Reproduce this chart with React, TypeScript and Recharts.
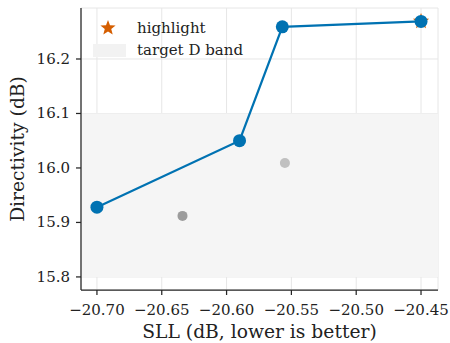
import {
  ComposedChart,
  Line,
  Scatter,
  XAxis,
  YAxis,
  CartesianGrid,
  ReferenceArea,
} from "recharts";

// front (pareto) points: SLL vs directivity
const frontSll = [-20.7, -20.59, -20.557, -20.45];
const frontDir = [15.928, 16.05, 16.259, 16.269];

// dominated points
const otherSll = [-20.634, -20.555];
const otherDir = [15.912, 16.009];
const otherColors = ["#9c9c9c", "#c0c0c0"];

const highlightSll = [-20.45];
const highlightDir = [16.269];

const xTicks = [-20.7, -20.65, -20.6, -20.55, -20.5, -20.45];
const yTicks = [15.8, 15.9, 16.0, 16.1, 16.2];

const bandLow = 15.8;
const bandHigh = 16.1;

const BLUE = "#0072B2";
const ORANGE = "#D55E00";
const FONT = "'DejaVu Serif', serif";
const TICK_FS = 15;
const LABEL_FS = 18.7;

const frontData = frontSll.map((x, i) => ({ x, y: frontDir[i] }));
const otherData = otherSll.map((x, i) => ({ x, y: otherDir[i], fill: otherColors[i] }));
const highlightData = highlightSll.map((x, i) => ({ x, y: highlightDir[i] }));

const starPath = (cx: number, cy: number, ro: number, ri: number) => {
  const pts: string[] = [];
  for (let i = 0; i < 10; i++) {
    const r = i % 2 === 0 ? ro : ri;
    const a = -Math.PI / 2 + (i * Math.PI) / 5;
    pts.push(`${cx + r * Math.cos(a)},${cy + r * Math.sin(a)}`);
  }
  return `M${pts.join("L")}Z`;
};

const StarShape = (props: any) => (
  <path d={starPath(props.cx, props.cy, 8.5, 3.6)} fill={ORANGE} />
);

const GreyDot = (props: any) => (
  <circle cx={props.cx} cy={props.cy} r={5} fill={props.payload.fill} />
);

const fmtX = (v: number) => v.toFixed(2).replace("-", "\u2212");
const fmtY = (v: number) => v.toFixed(1);

const XTick = (props: any) => (
  <text
    x={props.x}
    y={props.y + 18}
    textAnchor="middle"
    style={{ fontFamily: FONT, fontSize: TICK_FS, fill: "#222" }}
  >
    {fmtX(props.payload.value)}
  </text>
);

const YTick = (props: any) => (
  <text
    x={props.x - 4}
    y={props.y + 5}
    textAnchor="end"
    style={{ fontFamily: FONT, fontSize: TICK_FS, fill: "#222" }}
  >
    {fmtY(props.payload.value)}
  </text>
);

const LegendBox = () => (
  <svg
    width={180}
    height={60}
    style={{ position: "absolute", left: 88, top: 5, display: "block" }}
  >
    <path d={starPath(20, 23, 8, 3.4)} fill={ORANGE} />
    <rect x={5} y={39} width={33} height={13} fill="#f2f2f2" />
    <text x={49} y={28} style={{ fontFamily: FONT, fontSize: TICK_FS, fill: "#222" }}>
      highlight
    </text>
    <text x={49} y={50} style={{ fontFamily: FONT, fontSize: TICK_FS, fill: "#222" }}>
      target D band
    </text>
  </svg>
);

export default function App() {
  return (
    <div
      style={{
        position: "absolute",
        left: 0,
        top: 0,
        width: 450,
        height: 343,
        background: "#fff",
        fontFamily: FONT,
      }}
    >
      <ComposedChart
        width={450}
        height={343}
        margin={{ top: 8, right: 12, left: 0, bottom: 0 }}
      >
        <ReferenceArea
          x1={-20.7123}
          x2={-20.4369}
          y1={bandLow}
          y2={bandHigh}
          fill="#f5f5f5"
          fillOpacity={1}
          stroke="none"
          ifOverflow="hidden"
        />
        <CartesianGrid stroke="#e6e6e6" strokeWidth={1} />
        <XAxis
          type="number"
          dataKey="x"
          domain={[-20.7123, -20.4369]}
          ticks={xTicks}
          allowDataOverflow
          height={53}
          tick={<XTick />}
          tickSize={5}
          stroke="#262626"
          strokeWidth={1.25}
          label={{
            value: "SLL (dB, lower is better)",
            position: "insideBottom",
            offset: 5,
            style: { fontFamily: FONT, fontSize: LABEL_FS, fill: "#222" },
          }}
        />
        <YAxis
          type="number"
          dataKey="y"
          domain={[15.776, 16.2936]}
          ticks={yTicks}
          allowDataOverflow
          width={81}
          tick={<YTick />}
          tickSize={5}
          stroke="#262626"
          strokeWidth={1.25}
          label={{
            value: "Directivity (dB)",
            angle: -90,
            position: "insideLeft",
            offset: 17,
            style: { fontFamily: FONT, fontSize: LABEL_FS, fill: "#222", textAnchor: "middle" },
          }}
        />
        <Scatter data={otherData} shape={<GreyDot />} isAnimationActive={false} />
        <Scatter data={highlightData} shape={<StarShape />} isAnimationActive={false} />
        <Line
          data={frontData}
          dataKey="y"
          type="linear"
          stroke={BLUE}
          strokeWidth={2.2}
          dot={{ r: 6.5, fill: BLUE, stroke: BLUE, strokeWidth: 0 }}
          activeDot={false}
          isAnimationActive={false}
        />
      </ComposedChart>
      <LegendBox />
    </div>
  );
}
